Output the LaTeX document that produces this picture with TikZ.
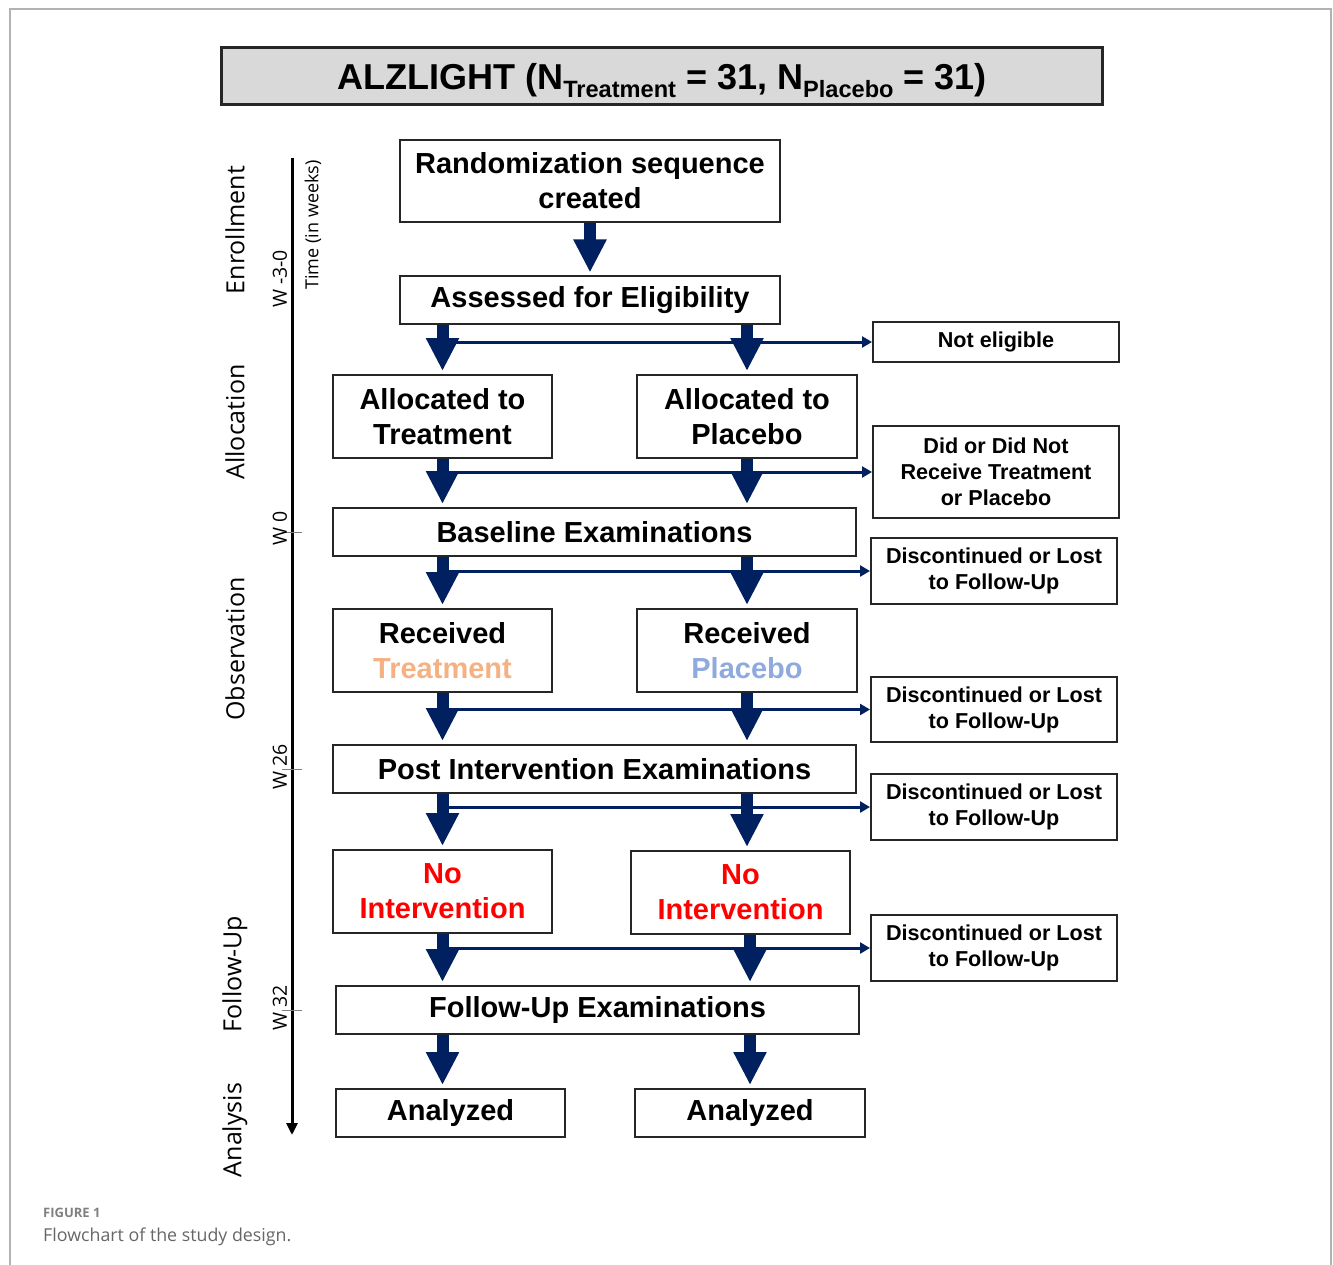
\documentclass[tikz,border=0pt]{standalone}
\usepackage{fontspec}
\setmainfont{Liberation Sans}
\newfontfamily\labelfont{Open Sans}
\usetikzlibrary{%
    positioning,
    arrows.meta
}
\definecolor{navy}{HTML}{002060}
\definecolor{treatcol}{HTML}{F4B183}
\definecolor{placebocol}{HTML}{8FAADC}
\tikzset{
    flowbox/.style = {
        rectangle, draw=black!85, line width=2pt,
        inner sep=0pt, align=center,
        font=\fontsize{29}{35}\selectfont\bfseries,
    },
    sidebox/.style = {
        flowbox, minimum width=246pt,
        font=\fontsize{21.6}{26}\selectfont\bfseries,
    },
    bigarrow/.style = {
        navy, line width=12pt,
        -{Triangle[width=31pt,length=33pt]}, shorten >=3pt
    },
    thinarrow/.style = {
        navy, line width=3pt,
        -{Triangle[width=11pt,length=10pt]}
    },
    phase/.style = {
        rotate=90, font=\labelfont\fontsize{25}{30}\selectfont
    },
    weeklabel/.style = {
        rotate=90, font=\labelfont\fontsize{19.5}{24}\selectfont
    }
}

\begin{document}
\begin{tikzpicture}[x=1pt, y=-1pt]
    \useasboundingbox (0,0) rectangle (1333,1265);
    % frame
    \draw[black!30, line width=1.5pt] (10,1265) -- (10,9) -- (1331,9) -- (1331,1265);

    \node[
        flowbox,
        fill=gray!30,
        line width=3pt,
        minimum width = 881pt,
        minimum height = 57pt,
        text height = 30pt,
        text depth = 2pt,
        font=\fontsize{36}{40}\selectfont\bfseries
    ] (title) at (662, 76) {ALZLIGHT (N\raisebox{-8pt}{\fontsize{23.6}{26}\selectfont Treatment} = 31,
        N\raisebox{-8pt}{\fontsize{23.6}{26}\selectfont Placebo} = 31)};

    % main column
    \node[
        flowbox,
        minimum width = 380pt,
        minimum height = 82pt
    ] (random) at (590, 181) {Randomization sequence\\created};
    \node[
        flowbox,
        minimum width = 380pt,
        minimum height = 47pt
    ] (assess) at (590, 300) {Assessed for Eligibility};
    \node[
        flowbox,
        minimum width = 219pt,
        minimum height = 83pt
    ] (alloctreat) at (442.5, 416.5) {Allocated to\\Treatment};
    \node[
        flowbox,
        minimum width = 220pt,
        minimum height = 83pt,
        right=83pt of alloctreat
    ] (allocplac) {Allocated to\\Placebo};
    \node[
        flowbox,
        minimum width = 523pt,
        minimum height = 48pt
    ] (baseline) at (594.5, 532) {Baseline Examinations};
    \node[
        flowbox,
        minimum width = 219pt,
        minimum height = 83pt
    ] (rectreat) at (442.5, 650.5) {Received\\\textcolor{treatcol}{Treatment}};
    \node[
        flowbox,
        minimum width = 220pt,
        minimum height = 83pt,
        right=83pt of rectreat
    ] (recplac) {Received\\\textcolor{placebocol}{Placebo}};
    \node[
        flowbox,
        minimum width = 523pt,
        minimum height = 48pt
    ] (post) at (594.5, 769) {Post Intervention Examinations};
    \node[
        flowbox,
        minimum width = 219pt,
        minimum height = 83pt
    ] (nointtreat) at (442.5, 891.5) {\textcolor{red}{No}\\\textcolor{red}{Intervention}};
    \node[
        flowbox,
        minimum width = 219pt,
        minimum height = 83pt
    ] (nointplac) at (740.5, 892.5) {\textcolor{red}{No}\\\textcolor{red}{Intervention}};
    \node[
        flowbox,
        minimum width = 523pt,
        minimum height = 48pt
    ] (followup) at (597.5, 1010) {Follow-Up Examinations};
    \node[
        flowbox,
        minimum width = 229pt,
        minimum height = 48pt
    ] (analyzedtreat) at (450.5, 1113) {Analyzed};
    \node[
        flowbox,
        minimum width = 230pt,
        minimum height = 48pt
    ] (analyzedplac) at (750, 1113) {Analyzed};

    % side column
    \node[sidebox, minimum height = 40pt] (notelig) at (996, 342) {Not eligible};
    \node[sidebox, minimum height = 92pt] (didnot) at (996, 472) {Did or Did Not\\Receive Treatment\\or Placebo};
    \node[sidebox, minimum height = 66pt] (discA) at (994, 571) {Discontinued or Lost\\to Follow-Up};
    \node[sidebox, minimum height = 65pt] (discB) at (994, 709.5) {Discontinued or Lost\\to Follow-Up};
    \node[sidebox, minimum height = 66pt] (discC) at (994, 807) {Discontinued or Lost\\to Follow-Up};
    \node[sidebox, minimum height = 66pt] (discD) at (994, 948) {Discontinued or Lost\\to Follow-Up};

    % thin arrows to the side
    \draw[thinarrow] (alloctreat.north |- notelig.west) -- (notelig.west);
    \draw[thinarrow] (alloctreat.south |- didnot.west) -- (didnot.west);
    \draw[thinarrow] (rectreat.north |- discA.west) -- (discA.west);
    \draw[thinarrow] (rectreat.south |- discB.west) -- (discB.west);
    \draw[thinarrow] (nointtreat.north |- discC.west) -- (discC.west);
    \draw[thinarrow] (nointtreat.south |- discD.west) -- (discD.west);

    % big arrows
    \draw[bigarrow] (random.south) -- (assess.north);
    \draw[bigarrow] (assess.south -| alloctreat) -- (alloctreat.north);
    \draw[bigarrow] (assess.south -| allocplac) -- (allocplac.north);
    \draw[bigarrow] (alloctreat.south) -- (baseline.north -| alloctreat);
    \draw[bigarrow] (allocplac.south) -- (baseline.north -| allocplac);
    \draw[bigarrow] (baseline.south -| rectreat) -- (rectreat.north);
    \draw[bigarrow] (baseline.south -| recplac) -- (recplac.north);
    \draw[bigarrow] (rectreat.south) -- (post.north -| rectreat);
    \draw[bigarrow] (recplac.south) -- (post.north -| recplac);
    \draw[bigarrow] (post.south -| nointtreat) -- (nointtreat.north);
    \draw[bigarrow] (post.south -| recplac) -- (nointplac.north -| recplac);
    \draw[bigarrow] (nointtreat.south) -- (followup.north -| nointtreat);
    \draw[bigarrow] (nointplac.south -| analyzedplac) -- (followup.north -| analyzedplac);
    \draw[bigarrow] (followup.south -| nointtreat) -- (analyzedtreat.north -| nointtreat);
    \draw[bigarrow] (followup.south -| analyzedplac) -- (analyzedplac.north);

    % time axis
    \coordinate (tstart) at (292, 158);
    \coordinate (tend) at (292, 1135);
    \draw[line width=3pt, -{Triangle[width=11pt,length=12pt]}] (tstart) -- (tend);
    \draw[black!50, line width=1pt] (baseline.west -| tstart) ++(-10,0) -- ++(20,0);
    \draw[black!50, line width=1pt] (post.west -| tstart) ++(-10,0) -- ++(20,0);
    \draw[black!50, line width=1pt] (followup.west -| tstart) ++(-10,0) -- ++(20,0);
    \node[weeklabel] (wenroll) at (280, 279) {W -3-0};
    \node[weeklabel] (wzero) at (280, 528) {W 0};
    \node[weeklabel] (wpost) at (280, 767) {W 26};
    \node[weeklabel] (wfollow) at (280, 1008) {W 32};
    \node[rotate=90, font=\labelfont\fontsize{18}{22}\selectfont] (timelabel) at (313, 225) {Time (in weeks)};

    % phases
    \node[phase] (enroll) at (235, 230) {Enrollment};
    \node[phase] (alloc) at (235, 422) {Allocation};
    \node[phase] (observ) at (235, 649) {Observation};
    \node[phase] (follow) at (235, 974) {Follow-Up};
    \node[phase] (analysis) at (235, 1130) {Analysis};

    % caption
    \node[anchor=base west, inner sep=0pt, text=black!50, font=\labelfont\fontsize{13}{16}\selectfont\bfseries] (fignum) at (43, 1217) {FIGURE 1};
    \node[anchor=base west, inner sep=0pt, text=black!60, font=\labelfont\fontsize{17.8}{22}\selectfont] (caption) at (43, 1241) {Flowchart of the study design.};
\end{tikzpicture}
\end{document}
